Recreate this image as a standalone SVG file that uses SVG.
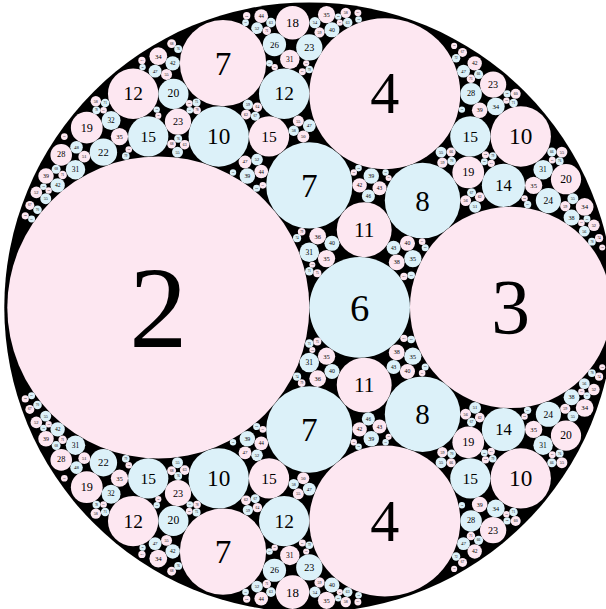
<svg xmlns="http://www.w3.org/2000/svg" width="606" height="609" viewBox="0 0 606 609">
<style>
.p{fill:#fde7f1}.b{fill:#dcf1f9}
text{font-family:"Liberation Serif","DejaVu Serif",serif;font-size:77px;text-anchor:middle;dominant-baseline:central;fill:#000}
svg svg{overflow:visible}
</style>
<rect width="606" height="609" fill="#fff"/>
<g id="packing" transform="translate(309.3 307.4) scale(3.02)">
<circle id="outer" r="101" fill="#000"/>
<g id="k2"><svg x="-100" y="-100" width="200" height="200" viewBox="-200 -200 400 400">
<circle class="p" cx="-100" cy="0" r="100"/><text x="-100" y="0">2</text>
</svg></g>
<g id="k3"><svg x="-100" y="-100" width="200" height="200" viewBox="-300 -300 600 600">
<circle class="p" cx="200" cy="0" r="100"/><text x="200" y="0">3</text>
</svg></g>
<g id="k4"><svg x="-100" y="-100" width="200" height="200" viewBox="-400 -400 800 800">
<circle class="p" cx="100" cy="-283" r="100"/><text x="100" y="-283">4</text>
<circle class="p" cx="100" cy="283" r="100"/><text x="100" y="283">4</text>
</svg></g>
<g id="k6"><svg x="-100" y="-100" width="200" height="200" viewBox="-600 -600 1200 1200">
<circle class="b" cx="100" cy="0" r="100"/><text x="100" y="0">6</text>
</svg></g>
<g id="k7"><svg x="-100" y="-100" width="200" height="200" viewBox="-700 -700 1400 1400">
<circle class="b" cx="0" cy="-283" r="100"/><text x="0" y="-283">7</text>
<circle class="b" cx="0" cy="283" r="100"/><text x="0" y="283">7</text>
<circle class="p" cx="-200" cy="-566" r="100"/><text x="-200" y="-566">7</text>
<circle class="p" cx="-200" cy="566" r="100"/><text x="-200" y="566">7</text>
</svg></g>
<g id="k8"><svg x="-100" y="-100" width="200" height="200" viewBox="-800 -800 1600 1600">
<circle class="b" cx="300" cy="-283" r="100"/><text x="300" y="-283">8</text>
<circle class="b" cx="300" cy="283" r="100"/><text x="300" y="283">8</text>
</svg></g>
<g id="k10"><svg x="-100" y="-100" width="200" height="200" viewBox="-1000 -1000 2000 2000">
<circle class="b" cx="-300" cy="-566" r="100"/><text x="-300" y="-566">10</text>
<circle class="b" cx="-300" cy="566" r="100"/><text x="-300" y="566">10</text>
<circle class="p" cx="700" cy="-566" r="100"/><text x="700" y="-566">10</text>
<circle class="p" cx="700" cy="566" r="100"/><text x="700" y="566">10</text>
</svg></g>
<g id="k11"><svg x="-100" y="-100" width="200" height="200" viewBox="-1100 -1100 2200 2200">
<circle class="p" cx="200" cy="-283" r="100"/><text x="200" y="-283">11</text>
<circle class="p" cx="200" cy="283" r="100"/><text x="200" y="283">11</text>
</svg></g>
<g id="k12"><svg x="-100" y="-100" width="200" height="200" viewBox="-1200 -1200 2400 2400">
<circle class="b" cx="-100" cy="-849" r="100"/><text x="-100" y="-849">12</text>
<circle class="b" cx="-100" cy="849" r="100"/><text x="-100" y="849">12</text>
<circle class="p" cx="-700" cy="-849" r="100"/><text x="-700" y="-849">12</text>
<circle class="p" cx="-700" cy="849" r="100"/><text x="-700" y="849">12</text>
</svg></g>
<g id="k14"><svg x="-100" y="-100" width="200" height="200" viewBox="-1400 -1400 2800 2800">
<circle class="b" cx="900" cy="-566" r="100"/><text x="900" y="-566">14</text>
<circle class="b" cx="900" cy="566" r="100"/><text x="900" y="566">14</text>
</svg></g>
<g id="k15"><svg x="-100" y="-100" width="200" height="200" viewBox="-1500 -1500 3000 3000">
<circle class="p" cx="-200" cy="-849" r="100"/><text x="-200" y="-849">15</text>
<circle class="p" cx="-200" cy="849" r="100"/><text x="-200" y="849">15</text>
<circle class="b" cx="800" cy="-849" r="100"/><text x="800" y="-849">15</text>
<circle class="b" cx="800" cy="849" r="100"/><text x="800" y="849">15</text>
<circle class="b" cx="-800" cy="-849" r="100"/><text x="-800" y="-849">15</text>
<circle class="b" cx="-800" cy="849" r="100"/><text x="-800" y="849">15</text>
</svg></g>
<g id="k18"><svg x="-100" y="-100" width="200" height="200" viewBox="-1800 -1800 3600 3600">
<circle class="p" cx="-100" cy="-1697" r="100"/><text x="-100" y="-1697">18</text>
<circle class="p" cx="-100" cy="1697" r="100"/><text x="-100" y="1697">18</text>
</svg></g>
<g id="k19"><svg x="-100" y="-100" width="200" height="200" viewBox="-1900 -1900 3800 3800">
<circle class="p" cx="1000" cy="-849" r="100"/><text x="1000" y="-849">19</text>
<circle class="p" cx="1000" cy="849" r="100"/><text x="1000" y="849">19</text>
<circle class="p" cx="-1400" cy="-1131" r="100"/><text x="-1400" y="-1131">19</text>
<circle class="p" cx="-1400" cy="1131" r="100"/><text x="-1400" y="1131">19</text>
</svg></g>
<g id="k20"><svg x="-100" y="-100" width="200" height="200" viewBox="-2000 -2000 4000 4000">
<circle class="b" cx="-900" cy="-1414" r="100"/><text x="-900" y="-1414">20</text>
<circle class="b" cx="-900" cy="1414" r="100"/><text x="-900" y="1414">20</text>
<circle class="p" cx="1700" cy="-849" r="100"/><text x="1700" y="-849">20</text>
<circle class="p" cx="1700" cy="849" r="100"/><text x="1700" y="849">20</text>
</svg></g>
<g id="k22"><svg x="-100" y="-100" width="200" height="200" viewBox="-2200 -2200 4400 4400">
<circle class="b" cx="-1500" cy="-1131" r="100"/><text x="-1500" y="-1131">22</text>
<circle class="b" cx="-1500" cy="1131" r="100"/><text x="-1500" y="1131">22</text>
</svg></g>
<g id="k23"><svg x="-100" y="-100" width="200" height="200" viewBox="-2300 -2300 4600 4600">
<circle class="p" cx="-1000" cy="-1414" r="100"/><text x="-1000" y="-1414">23</text>
<circle class="p" cx="-1000" cy="1414" r="100"/><text x="-1000" y="1414">23</text>
<circle class="b" cx="0" cy="-1980" r="100"/><text x="0" y="-1980">23</text>
<circle class="b" cx="0" cy="1980" r="100"/><text x="0" y="1980">23</text>
<circle class="p" cx="1400" cy="-1697" r="100"/><text x="1400" y="-1697">23</text>
<circle class="p" cx="1400" cy="1697" r="100"/><text x="1400" y="1697">23</text>
</svg></g>
<g id="k24"><svg x="-100" y="-100" width="200" height="200" viewBox="-2400 -2400 4800 4800">
<circle class="b" cx="1900" cy="-849" r="100"/><text x="1900" y="-849">24</text>
<circle class="b" cx="1900" cy="849" r="100"/><text x="1900" y="849">24</text>
</svg></g>
<g id="k26"><svg x="-100" y="-100" width="200" height="200" viewBox="-2600 -2600 5200 5200">
<circle class="b" cx="-300" cy="-2263" r="100"/><text x="-300" y="-2263">26</text>
<circle class="b" cx="-300" cy="2263" r="100"/><text x="-300" y="2263">26</text>
</svg></g>
<g id="k28"><svg x="-100" y="-100" width="200" height="200" viewBox="-2800 -2800 5600 5600">
<circle class="b" cx="1500" cy="-1980" r="100"/><text x="1500" y="-1980">28</text>
<circle class="b" cx="1500" cy="1980" r="100"/><text x="1500" y="1980">28</text>
<circle class="p" cx="-2300" cy="-1414" r="100"/><text x="-2300" y="-1414">28</text>
<circle class="p" cx="-2300" cy="1414" r="100"/><text x="-2300" y="1414">28</text>
</svg></g>
<g id="k31"><svg x="-100" y="-100" width="200" height="200" viewBox="-3100 -3100 6200 6200">
<circle class="b" cx="0" cy="-566" r="100"/><text x="0" y="-566">31</text>
<circle class="b" cx="0" cy="566" r="100"/><text x="0" y="566">31</text>
<circle class="p" cx="-200" cy="-2546" r="100"/><text x="-200" y="-2546">31</text>
<circle class="p" cx="-200" cy="2546" r="100"/><text x="-200" y="2546">31</text>
<circle class="b" cx="2400" cy="-1414" r="100"/><text x="2400" y="-1414">31</text>
<circle class="b" cx="2400" cy="1414" r="100"/><text x="2400" y="1414">31</text>
<circle class="b" cx="-2400" cy="-1414" r="100"/><text x="-2400" y="-1414">31</text>
<circle class="b" cx="-2400" cy="1414" r="100"/><text x="-2400" y="1414">31</text>
</svg></g>
<g id="k32"><svg x="-100" y="-100" width="200" height="200" viewBox="-3200 -3200 6400 6400">
<circle class="b" cx="-2100" cy="-1980" r="100"/><text x="-2100" y="-1980">32</text>
<circle class="b" cx="-2100" cy="1980" r="100"/><text x="-2100" y="1980">32</text>
</svg></g>
<g id="k34"><svg x="-100" y="-100" width="200" height="200" viewBox="-3400 -3400 6800 6800">
<circle class="b" cx="2100" cy="-2263" r="100"/><text x="2100" y="-2263">34</text>
<circle class="b" cx="2100" cy="2263" r="100"/><text x="2100" y="2263">34</text>
<circle class="p" cx="-1700" cy="-2828" r="100"/><text x="-1700" y="-2828">34</text>
<circle class="p" cx="-1700" cy="2828" r="100"/><text x="-1700" y="2828">34</text>
<circle class="p" cx="3100" cy="-1131" r="100"/><text x="3100" y="-1131">34</text>
<circle class="p" cx="3100" cy="1131" r="100"/><text x="3100" y="1131">34</text>
</svg></g>
<g id="k35"><svg x="-100" y="-100" width="200" height="200" viewBox="-3500 -3500 7000 7000">
<circle class="p" cx="200" cy="-566" r="100"/><text x="200" y="-566">35</text>
<circle class="p" cx="200" cy="566" r="100"/><text x="200" y="566">35</text>
<circle class="b" cx="1200" cy="-566" r="100"/><text x="1200" y="-566">35</text>
<circle class="b" cx="1200" cy="566" r="100"/><text x="1200" y="566">35</text>
<circle class="p" cx="2600" cy="-1414" r="100"/><text x="2600" y="-1414">35</text>
<circle class="p" cx="2600" cy="1414" r="100"/><text x="2600" y="1414">35</text>
<circle class="p" cx="-2200" cy="-1980" r="100"/><text x="-2200" y="-1980">35</text>
<circle class="p" cx="-2200" cy="1980" r="100"/><text x="-2200" y="1980">35</text>
<circle class="p" cx="200" cy="-3394" r="100"/><text x="200" y="-3394">35</text>
<circle class="p" cx="200" cy="3394" r="100"/><text x="200" y="3394">35</text>
</svg></g>
<g id="k36"><svg x="-100" y="-100" width="200" height="200" viewBox="-3600 -3600 7200 7200">
<circle class="p" cx="100" cy="-849" r="100"/><text x="100" y="-849">36</text>
<circle class="p" cx="100" cy="849" r="100"/><text x="100" y="849">36</text>
</svg></g>
<g id="k38"><svg x="-100" y="-100" width="200" height="200" viewBox="-3800 -3800 7600 7600">
<circle class="p" cx="1100" cy="-566" r="100"/><text x="1100" y="-566">38</text>
<circle class="p" cx="1100" cy="566" r="100"/><text x="1100" y="566">38</text>
<circle class="b" cx="3300" cy="-1131" r="100"/><text x="3300" y="-1131">38</text>
<circle class="b" cx="3300" cy="1131" r="100"/><text x="3300" y="1131">38</text>
</svg></g>
<g id="k39"><svg x="-100" y="-100" width="200" height="200" viewBox="-3900 -3900 7800 7800">
<circle class="b" cx="800" cy="-1697" r="100"/><text x="800" y="-1697">39</text>
<circle class="b" cx="800" cy="1697" r="100"/><text x="800" y="1697">39</text>
<circle class="b" cx="-800" cy="-1697" r="100"/><text x="-800" y="-1697">39</text>
<circle class="b" cx="-800" cy="1697" r="100"/><text x="-800" y="1697">39</text>
<circle class="p" cx="2200" cy="-2546" r="100"/><text x="2200" y="-2546">39</text>
<circle class="p" cx="2200" cy="2546" r="100"/><text x="2200" y="2546">39</text>
<circle class="p" cx="-3400" cy="-1697" r="100"/><text x="-3400" y="-1697">39</text>
<circle class="p" cx="-3400" cy="1697" r="100"/><text x="-3400" y="1697">39</text>
</svg></g>
<g id="k40"><svg x="-100" y="-100" width="200" height="200" viewBox="-4000 -4000 8000 8000">
<circle class="b" cx="300" cy="-849" r="100"/><text x="300" y="-849">40</text>
<circle class="b" cx="300" cy="849" r="100"/><text x="300" y="849">40</text>
<circle class="p" cx="1300" cy="-849" r="100"/><text x="1300" y="-849">40</text>
<circle class="p" cx="1300" cy="849" r="100"/><text x="1300" y="849">40</text>
<circle class="b" cx="300" cy="-3677" r="100"/><text x="300" y="-3677">40</text>
<circle class="b" cx="300" cy="3677" r="100"/><text x="300" y="3677">40</text>
</svg></g>
<g id="k42"><svg x="-100" y="-100" width="200" height="200" viewBox="-4200 -4200 8400 8400">
<circle class="p" cx="700" cy="-1697" r="100"/><text x="700" y="-1697">42</text>
<circle class="p" cx="700" cy="1697" r="100"/><text x="700" y="1697">42</text>
<circle class="b" cx="-1900" cy="-3394" r="100"/><text x="-1900" y="-3394">42</text>
<circle class="b" cx="-1900" cy="3394" r="100"/><text x="-1900" y="3394">42</text>
<circle class="p" cx="2300" cy="-3394" r="100"/><text x="2300" y="-3394">42</text>
<circle class="p" cx="2300" cy="3394" r="100"/><text x="2300" y="3394">42</text>
<circle class="b" cx="-3500" cy="-1697" r="100"/><text x="-3500" y="-1697">42</text>
<circle class="b" cx="-3500" cy="1697" r="100"/><text x="-3500" y="1697">42</text>
</svg></g>
<g id="k43"><svg x="-100" y="-100" width="200" height="200" viewBox="-4300 -4300 8600 8600">
<circle class="p" cx="1000" cy="-1697" r="100"/><text x="1000" y="-1697">43</text>
<circle class="p" cx="1000" cy="1697" r="100"/><text x="1000" y="1697">43</text>
<circle class="b" cx="1200" cy="-849" r="100"/><text x="1200" y="-849">43</text>
<circle class="b" cx="1200" cy="849" r="100"/><text x="1200" y="849">43</text>
</svg></g>
<g id="k44"><svg x="-100" y="-100" width="200" height="200" viewBox="-4400 -4400 8800 8800">
<circle class="p" cx="-700" cy="-1980" r="100"/><text x="-700" y="-1980">44</text>
<circle class="p" cx="-700" cy="1980" r="100"/><text x="-700" y="1980">44</text>
<circle class="p" cx="-700" cy="-4243" r="100"/><text x="-700" y="-4243">44</text>
<circle class="p" cx="-700" cy="4243" r="100"/><text x="-700" y="4243">44</text>
</svg></g>
<g id="k46"><svg x="-100" y="-100" width="200" height="200" viewBox="-4600 -4600 9200 9200">
<circle class="b" cx="900" cy="-1697" r="100"/><text x="900" y="-1697">46</text>
<circle class="b" cx="900" cy="1697" r="100"/><text x="900" y="1697">46</text>
</svg></g>
<g id="k47"><svg x="-100" y="-100" width="200" height="200" viewBox="-4700 -4700 9400 9400">
<circle class="p" cx="-1000" cy="-2263" r="100"/><text x="-1000" y="-2263">47</text>
<circle class="p" cx="-1000" cy="2263" r="100"/><text x="-1000" y="2263">47</text>
<circle class="b" cx="0" cy="-2828" r="100"/><text x="0" y="-2828">47</text>
<circle class="b" cx="0" cy="2828" r="100"/><text x="0" y="2828">47</text>
<circle class="b" cx="-2400" cy="-3677" r="100"/><text x="-2400" y="-3677">47</text>
<circle class="b" cx="-2400" cy="3677" r="100"/><text x="-2400" y="3677">47</text>
<circle class="b" cx="2400" cy="-3677" r="100"/><text x="2400" y="-3677">47</text>
<circle class="b" cx="2400" cy="3677" r="100"/><text x="2400" y="3677">47</text>
</svg></g>
<g id="k48"><svg x="-100" y="-100" width="200" height="200" viewBox="-4800 -4800 9600 9600">
<circle class="b" cx="-3700" cy="-2546" r="100"/><text x="-3700" y="-2546">48</text>
<circle class="b" cx="-3700" cy="2546" r="100"/><text x="-3700" y="2546">48</text>
</svg></g>
<g id="k50"><svg x="-100" y="-100" width="200" height="200" viewBox="-5000 -5000 10000 10000">
<circle class="p" cx="-100" cy="-2828" r="100"/><text x="-100" y="-2828">50</text>
<circle class="p" cx="-100" cy="2828" r="100"/><text x="-100" y="2828">50</text>
</svg></g>
<g id="k51"><svg x="-100" y="-100" width="200" height="200" viewBox="-5100 -5100 10200 10200">
<circle class="b" cx="2800" cy="-1697" r="100"/><text x="2800" y="-1697">51</text>
<circle class="b" cx="2800" cy="1697" r="100"/><text x="2800" y="1697">51</text>
<circle class="p" cx="-3800" cy="-2546" r="100"/><text x="-3800" y="-2546">51</text>
<circle class="p" cx="-3800" cy="2546" r="100"/><text x="-3800" y="2546">51</text>
</svg></g>
<g id="k52"><svg x="-100" y="-100" width="200" height="200" viewBox="-5200 -5200 10400 10400">
<circle class="b" cx="-900" cy="-2546" r="100"/><text x="-900" y="-2546">52</text>
<circle class="b" cx="-900" cy="2546" r="100"/><text x="-900" y="2546">52</text>
<circle class="b" cx="-900" cy="-4808" r="100"/><text x="-900" y="-4808">52</text>
<circle class="b" cx="-900" cy="4808" r="100"/><text x="-900" y="4808">52</text>
<circle class="p" cx="4900" cy="-1414" r="100"/><text x="4900" y="-1414">52</text>
<circle class="p" cx="4900" cy="1414" r="100"/><text x="4900" y="1414">52</text>
<circle class="p" cx="-4700" cy="-1980" r="100"/><text x="-4700" y="-1980">52</text>
<circle class="p" cx="-4700" cy="1980" r="100"/><text x="-4700" y="1980">52</text>
</svg></g>
<g id="k54"><svg x="-100" y="-100" width="200" height="200" viewBox="-5400 -5400 10800 10800">
<circle class="b" cx="100" cy="-5091" r="100"/><text x="100" y="-5091">54</text>
<circle class="b" cx="100" cy="5091" r="100"/><text x="100" y="5091">54</text>
</svg></g>
<g id="k55"><svg x="-100" y="-100" width="200" height="200" viewBox="-5500 -5500 11000 11000">
<circle class="p" cx="-200" cy="-3394" r="100"/><text x="-200" y="-3394">55</text>
<circle class="p" cx="-200" cy="3394" r="100"/><text x="-200" y="3394">55</text>
<circle class="b" cx="2400" cy="-2828" r="100"/><text x="2400" y="-2828">55</text>
<circle class="b" cx="2400" cy="2828" r="100"/><text x="2400" y="2828">55</text>
<circle class="b" cx="-2400" cy="-2828" r="100"/><text x="-2400" y="-2828">55</text>
<circle class="b" cx="-2400" cy="2828" r="100"/><text x="-2400" y="2828">55</text>
<circle class="p" cx="-2600" cy="-4243" r="100"/><text x="-2600" y="-4243">55</text>
<circle class="p" cx="-2600" cy="4243" r="100"/><text x="-2600" y="4243">55</text>
<circle class="b" cx="4800" cy="-1980" r="100"/><text x="4800" y="-1980">55</text>
<circle class="b" cx="4800" cy="1980" r="100"/><text x="4800" y="1980">55</text>
<circle class="p" cx="4600" cy="-2828" r="100"/><text x="4600" y="-2828">55</text>
<circle class="p" cx="4600" cy="2828" r="100"/><text x="4600" y="2828">55</text>
<circle class="b" cx="-4800" cy="-1980" r="100"/><text x="-4800" y="-1980">55</text>
<circle class="b" cx="-4800" cy="1980" r="100"/><text x="-4800" y="1980">55</text>
</svg></g>
<g id="k56"><svg x="-100" y="-100" width="200" height="200" viewBox="-5600 -5600 11200 11200">
<circle class="p" cx="2900" cy="-1980" r="100"/><text x="2900" y="-1980">56</text>
<circle class="p" cx="2900" cy="1980" r="100"/><text x="2900" y="1980">56</text>
<circle class="b" cx="5100" cy="-1414" r="100"/><text x="5100" y="-1414">56</text>
<circle class="b" cx="5100" cy="1414" r="100"/><text x="5100" y="1414">56</text>
</svg></g>
<g id="k58"><svg x="-100" y="-100" width="200" height="200" viewBox="-5800 -5800 11600 11600">
<circle class="b" cx="-300" cy="-3394" r="100"/><text x="-300" y="-3394">58</text>
<circle class="b" cx="-300" cy="3394" r="100"/><text x="-300" y="3394">58</text>
<circle class="p" cx="-4100" cy="-3960" r="100"/><text x="-4100" y="-3960">58</text>
<circle class="p" cx="-4100" cy="3960" r="100"/><text x="-4100" y="3960">58</text>
<circle class="p" cx="700" cy="-5657" r="100"/><text x="700" y="-5657">58</text>
<circle class="p" cx="700" cy="5657" r="100"/><text x="700" y="5657">58</text>
</svg></g>
<g id="k59"><svg x="-100" y="-100" width="200" height="200" viewBox="-5900 -5900 11800 11800">
<circle class="b" cx="-1200" cy="-3960" r="100"/><text x="-1200" y="-3960">59</text>
<circle class="b" cx="-1200" cy="3960" r="100"/><text x="-1200" y="3960">59</text>
<circle class="p" cx="2600" cy="-2828" r="100"/><text x="2600" y="-2828">59</text>
<circle class="p" cx="2600" cy="2828" r="100"/><text x="2600" y="2828">59</text>
<circle class="p" cx="200" cy="-5374" r="100"/><text x="200" y="-5374">59</text>
<circle class="p" cx="200" cy="5374" r="100"/><text x="200" y="5374">59</text>
<circle class="p" cx="5000" cy="-1980" r="100"/><text x="5000" y="-1980">59</text>
<circle class="p" cx="5000" cy="1980" r="100"/><text x="5000" y="1980">59</text>
</svg></g>
<g id="k60"><svg x="-100" y="-100" width="200" height="200" viewBox="-6000 -6000 12000 12000">
<circle class="p" cx="4100" cy="-4243" r="100"/><text x="4100" y="-4243">60</text>
<circle class="p" cx="4100" cy="4243" r="100"/><text x="4100" y="4243">60</text>
</svg></g>
<g id="k62"><svg x="-100" y="-100" width="200" height="200" viewBox="-6200 -6200 12400 12400">
<circle class="p" cx="-1300" cy="-3960" r="100"/><text x="-1300" y="-3960">62</text>
<circle class="p" cx="-1300" cy="3960" r="100"/><text x="-1300" y="3960">62</text>
<circle class="p" cx="3500" cy="-2263" r="100"/><text x="3500" y="-2263">62</text>
<circle class="p" cx="3500" cy="2263" r="100"/><text x="3500" y="2263">62</text>
</svg></g>
<g id="k63"><svg x="-100" y="-100" width="200" height="200" viewBox="-6300 -6300 12600 12600">
<circle class="p" cx="-2600" cy="-3394" r="100"/><text x="-2600" y="-3394">63</text>
<circle class="p" cx="-2600" cy="3394" r="100"/><text x="-2600" y="3394">63</text>
<circle class="b" cx="-800" cy="-5940" r="100"/><text x="-800" y="-5940">63</text>
<circle class="b" cx="-800" cy="5940" r="100"/><text x="-800" y="5940">63</text>
<circle class="b" cx="800" cy="-5940" r="100"/><text x="800" y="-5940">63</text>
<circle class="b" cx="800" cy="5940" r="100"/><text x="800" y="5940">63</text>
</svg></g>
<g id="k64"><svg x="-100" y="-100" width="200" height="200" viewBox="-6400 -6400 12800 12800">
<circle class="p" cx="-1100" cy="-4243" r="100"/><text x="-1100" y="-4243">64</text>
<circle class="p" cx="-1100" cy="4243" r="100"/><text x="-1100" y="4243">64</text>
</svg></g>
<g id="k66"><svg x="-100" y="-100" width="200" height="200" viewBox="-6600 -6600 13200 13200">
<circle class="p" cx="3100" cy="-3394" r="100"/><text x="3100" y="-3394">66</text>
<circle class="p" cx="3100" cy="3394" r="100"/><text x="3100" y="3394">66</text>
<circle class="b" cx="5300" cy="-3394" r="100"/><text x="5300" y="-3394">66</text>
<circle class="b" cx="5300" cy="3394" r="100"/><text x="5300" y="3394">66</text>
<circle class="b" cx="3700" cy="-5091" r="100"/><text x="3700" y="-5091">66</text>
<circle class="b" cx="3700" cy="5091" r="100"/><text x="3700" y="5091">66</text>
</svg></g>
<g id="k67"><svg x="-100" y="-100" width="200" height="200" viewBox="-6700 -6700 13400 13400">
<circle class="b" cx="-1200" cy="-4243" r="100"/><text x="-1200" y="-4243">67</text>
<circle class="b" cx="-1200" cy="4243" r="100"/><text x="-1200" y="4243">67</text>
<circle class="b" cx="3600" cy="-2546" r="100"/><text x="3600" y="-2546">67</text>
<circle class="b" cx="3600" cy="2546" r="100"/><text x="3600" y="2546">67</text>
<circle class="p" cx="-6200" cy="-2263" r="100"/><text x="-6200" y="-2263">67</text>
<circle class="p" cx="-6200" cy="2263" r="100"/><text x="-6200" y="2263">67</text>
<circle class="p" cx="3400" cy="-5657" r="100"/><text x="3400" y="-5657">67</text>
<circle class="p" cx="3400" cy="5657" r="100"/><text x="3400" y="5657">67</text>
</svg></g>
<g id="k68"><svg x="-100" y="-100" width="200" height="200" viewBox="-6800 -6800 13600 13600">
<circle class="p" cx="-3100" cy="-3677" r="100"/><text x="-3100" y="-3677">68</text>
<circle class="p" cx="-3100" cy="3677" r="100"/><text x="-3100" y="3677">68</text>
<circle class="b" cx="-5700" cy="-3111" r="100"/><text x="-5700" y="-3111">68</text>
<circle class="b" cx="-5700" cy="3111" r="100"/><text x="-5700" y="3111">68</text>
<circle class="p" cx="-3100" cy="-5940" r="100"/><text x="-3100" y="-5940">68</text>
<circle class="p" cx="-3100" cy="5940" r="100"/><text x="-3100" y="5940">68</text>
</svg></g>
<g id="k70"><svg x="-100" y="-100" width="200" height="200" viewBox="-7000 -7000 14000 14000">
<circle class="b" cx="3300" cy="-3394" r="100"/><text x="3300" y="-3394">70</text>
<circle class="b" cx="3300" cy="3394" r="100"/><text x="3300" y="3394">70</text>
<circle class="b" cx="-6300" cy="-2263" r="100"/><text x="-6300" y="-2263">70</text>
<circle class="b" cx="-6300" cy="2263" r="100"/><text x="-6300" y="2263">70</text>
</svg></g>
<g id="k71"><svg x="-100" y="-100" width="200" height="200" viewBox="-7100 -7100 14200 14200">
<circle class="b" cx="-4800" cy="-4808" r="100"/><text x="-4800" y="-4808">71</text>
<circle class="b" cx="-4800" cy="4808" r="100"/><text x="-4800" y="4808">71</text>
<circle class="p" cx="-5800" cy="-3111" r="100"/><text x="-5800" y="-3111">71</text>
<circle class="p" cx="-5800" cy="3111" r="100"/><text x="-5800" y="3111">71</text>
<circle class="p" cx="-1000" cy="-6505" r="100"/><text x="-1000" y="-6505">71</text>
<circle class="p" cx="-1000" cy="6505" r="100"/><text x="-1000" y="6505">71</text>
<circle class="p" cx="3800" cy="-5374" r="100"/><text x="3800" y="-5374">71</text>
<circle class="p" cx="3800" cy="5374" r="100"/><text x="3800" y="5374">71</text>
<circle class="b" cx="4800" cy="-4808" r="100"/><text x="4800" y="-4808">71</text>
<circle class="b" cx="4800" cy="4808" r="100"/><text x="4800" y="4808">71</text>
<circle class="b" cx="0" cy="-849" r="100"/><text x="0" y="-849">71</text>
<circle class="b" cx="0" cy="849" r="100"/><text x="0" y="849">71</text>
</svg></g>
<g id="k72"><svg x="-100" y="-100" width="200" height="200" viewBox="-7200 -7200 14400 14400">
<circle class="b" cx="3500" cy="-5940" r="100"/><text x="3500" y="-5940">72</text>
<circle class="b" cx="3500" cy="5940" r="100"/><text x="3500" y="5940">72</text>
</svg></g>
<g id="k74"><svg x="-100" y="-100" width="200" height="200" viewBox="-7400 -7400 14800 14800">
<circle class="p" cx="7100" cy="-1697" r="100"/><text x="7100" y="-1697">74</text>
<circle class="p" cx="7100" cy="1697" r="100"/><text x="7100" y="1697">74</text>
<circle class="b" cx="-300" cy="-1697" r="100"/><text x="-300" y="-1697">74</text>
<circle class="b" cx="-300" cy="1697" r="100"/><text x="-300" y="1697">74</text>
</svg></g>
<g id="k75"><svg x="-100" y="-100" width="200" height="200" viewBox="-7500 -7500 15000 15000">
<circle class="b" cx="-2800" cy="-5091" r="100"/><text x="-2800" y="-5091">75</text>
<circle class="b" cx="-2800" cy="5091" r="100"/><text x="-2800" y="5091">75</text>
<circle class="p" cx="200" cy="-849" r="100"/><text x="200" y="-849">75</text>
<circle class="p" cx="200" cy="849" r="100"/><text x="200" y="849">75</text>
</svg></g>
<g id="k76"><svg x="-100" y="-100" width="200" height="200" viewBox="-7600 -7600 15200 15200">
<circle class="b" cx="-3300" cy="-4243" r="100"/><text x="-3300" y="-4243">76</text>
<circle class="b" cx="-3300" cy="4243" r="100"/><text x="-3300" y="4243">76</text>
<circle class="b" cx="6300" cy="-3677" r="100"/><text x="6300" y="-3677">76</text>
<circle class="b" cx="6300" cy="3677" r="100"/><text x="6300" y="3677">76</text>
<circle class="b" cx="-3300" cy="-6505" r="100"/><text x="-3300" y="-6505">76</text>
<circle class="b" cx="-3300" cy="6505" r="100"/><text x="-3300" y="6505">76</text>
</svg></g>
<g id="k78"><svg x="-100" y="-100" width="200" height="200" viewBox="-7800 -7800 15600 15600">
<circle class="p" cx="-2900" cy="-5091" r="100"/><text x="-2900" y="-5091">78</text>
<circle class="p" cx="-2900" cy="5091" r="100"/><text x="-2900" y="5091">78</text>
<circle class="b" cx="-5500" cy="-5091" r="100"/><text x="-5500" y="-5091">78</text>
<circle class="b" cx="-5500" cy="5091" r="100"/><text x="-5500" y="5091">78</text>
<circle class="b" cx="7300" cy="-1697" r="100"/><text x="7300" y="-1697">78</text>
<circle class="b" cx="7300" cy="1697" r="100"/><text x="7300" y="1697">78</text>
</svg></g>
<g id="k79"><svg x="-100" y="-100" width="200" height="200" viewBox="-7900 -7900 15800 15800">
<circle class="b" cx="4800" cy="-3960" r="100"/><text x="4800" y="-3960">79</text>
<circle class="b" cx="4800" cy="3960" r="100"/><text x="4800" y="3960">79</text>
<circle class="b" cx="-4800" cy="-3960" r="100"/><text x="-4800" y="-3960">79</text>
<circle class="b" cx="-4800" cy="3960" r="100"/><text x="-4800" y="3960">79</text>
<circle class="b" cx="0" cy="-6223" r="100"/><text x="0" y="-6223">79</text>
<circle class="b" cx="0" cy="6223" r="100"/><text x="0" y="6223">79</text>
<circle class="p" cx="-200" cy="-1980" r="100"/><text x="-200" y="-1980">79</text>
<circle class="p" cx="-200" cy="1980" r="100"/><text x="-200" y="1980">79</text>
</svg></g>
<g id="k80"><svg x="-100" y="-100" width="200" height="200" viewBox="-8000 -8000 16000 16000">
<circle class="b" cx="2700" cy="-849" r="100"/><text x="2700" y="-849">80</text>
<circle class="b" cx="2700" cy="849" r="100"/><text x="2700" y="849">80</text>
</svg></g>
<g id="k82"><svg x="-100" y="-100" width="200" height="200" viewBox="-8200 -8200 16400 16400">
<circle class="p" cx="-1700" cy="-7920" r="100"/><text x="-1700" y="-7920">82</text>
<circle class="p" cx="-1700" cy="7920" r="100"/><text x="-1700" y="7920">82</text>
</svg></g>
<g id="k83"><svg x="-100" y="-100" width="200" height="200" viewBox="-8300 -8300 16600 16600">
<circle class="p" cx="5000" cy="-3960" r="100"/><text x="5000" y="-3960">83</text>
<circle class="p" cx="5000" cy="3960" r="100"/><text x="5000" y="3960">83</text>
<circle class="b" cx="6000" cy="-2828" r="100"/><text x="6000" y="-2828">83</text>
<circle class="b" cx="6000" cy="2828" r="100"/><text x="6000" y="2828">83</text>
<circle class="p" cx="-4600" cy="-6788" r="100"/><text x="-4600" y="-6788">83</text>
<circle class="p" cx="-4600" cy="6788" r="100"/><text x="-4600" y="6788">83</text>
<circle class="p" cx="2600" cy="-849" r="100"/><text x="2600" y="-849">83</text>
<circle class="p" cx="2600" cy="849" r="100"/><text x="2600" y="849">83</text>
</svg></g>
<g id="k84"><svg x="-100" y="-100" width="200" height="200" viewBox="-8400 -8400 16800 16800">
<circle class="p" cx="4900" cy="-4243" r="100"/><text x="4900" y="-4243">84</text>
<circle class="p" cx="4900" cy="4243" r="100"/><text x="4900" y="4243">84</text>
<circle class="p" cx="-7900" cy="-2546" r="100"/><text x="-7900" y="-2546">84</text>
<circle class="p" cx="-7900" cy="2546" r="100"/><text x="-7900" y="2546">84</text>
<circle class="b" cx="5500" cy="-5940" r="100"/><text x="5500" y="-5940">84</text>
<circle class="b" cx="5500" cy="5940" r="100"/><text x="5500" y="5940">84</text>
</svg></g>
<g id="k86"><svg x="-100" y="-100" width="200" height="200" viewBox="-8600 -8600 17200 17200">
<circle class="b" cx="-1500" cy="-3394" r="100"/><text x="-1500" y="-3394">86</text>
<circle class="b" cx="-1500" cy="3394" r="100"/><text x="-1500" y="3394">86</text>
<circle class="b" cx="3300" cy="-1697" r="100"/><text x="3300" y="-1697">86</text>
<circle class="b" cx="3300" cy="1697" r="100"/><text x="3300" y="1697">86</text>
</svg></g>
<g id="k87"><svg x="-100" y="-100" width="200" height="200" viewBox="-8700 -8700 17400 17400">
<circle class="b" cx="-8000" cy="-2546" r="100"/><text x="-8000" y="-2546">87</text>
<circle class="b" cx="-8000" cy="2546" r="100"/><text x="-8000" y="2546">87</text>
<circle class="p" cx="-200" cy="-6788" r="100"/><text x="-200" y="-6788">87</text>
<circle class="p" cx="-200" cy="6788" r="100"/><text x="-200" y="6788">87</text>
<circle class="p" cx="1400" cy="-8485" r="100"/><text x="1400" y="-8485">87</text>
<circle class="p" cx="1400" cy="8485" r="100"/><text x="1400" y="8485">87</text>
<circle class="b" cx="8000" cy="-2546" r="100"/><text x="8000" y="-2546">87</text>
<circle class="b" cx="8000" cy="2546" r="100"/><text x="8000" y="2546">87</text>
<circle class="p" cx="7000" cy="-4243" r="100"/><text x="7000" y="-4243">87</text>
<circle class="p" cx="7000" cy="4243" r="100"/><text x="7000" y="4243">87</text>
</svg></g>
<g id="k88"><svg x="-100" y="-100" width="200" height="200" viewBox="-8800 -8800 17600 17600">
<circle class="b" cx="5100" cy="-4243" r="100"/><text x="5100" y="-4243">88</text>
<circle class="b" cx="5100" cy="4243" r="100"/><text x="5100" y="4243">88</text>
<circle class="p" cx="-3500" cy="-5940" r="100"/><text x="-3500" y="-5940">88</text>
<circle class="p" cx="-3500" cy="5940" r="100"/><text x="-3500" y="5940">88</text>
</svg></g>
<g id="k90"><svg x="-100" y="-100" width="200" height="200" viewBox="-9000 -9000 18000 18000">
<circle class="p" cx="-7300" cy="-5091" r="100"/><text x="-7300" y="-5091">90</text>
<circle class="p" cx="-7300" cy="5091" r="100"/><text x="-7300" y="5091">90</text>
<circle class="b" cx="-1900" cy="-8485" r="100"/><text x="-1900" y="-8485">90</text>
<circle class="b" cx="-1900" cy="8485" r="100"/><text x="-1900" y="8485">90</text>
</svg></g>
<g id="k91"><svg x="-100" y="-100" width="200" height="200" viewBox="-9100 -9100 18200 18200">
<circle class="b" cx="-3600" cy="-5940" r="100"/><text x="-3600" y="-5940">91</text>
<circle class="b" cx="-3600" cy="5940" r="100"/><text x="-3600" y="5940">91</text>
<circle class="p" cx="-1400" cy="-3677" r="100"/><text x="-1400" y="-3677">91</text>
<circle class="p" cx="-1400" cy="3677" r="100"/><text x="-1400" y="3677">91</text>
<circle class="p" cx="-6200" cy="-5940" r="100"/><text x="-6200" y="-5940">91</text>
<circle class="p" cx="-6200" cy="5940" r="100"/><text x="-6200" y="5940">91</text>
<circle class="b" cx="-1200" cy="-7354" r="100"/><text x="-1200" y="-7354">91</text>
<circle class="b" cx="-1200" cy="7354" r="100"/><text x="-1200" y="7354">91</text>
<circle class="p" cx="8200" cy="-2546" r="100"/><text x="8200" y="-2546">91</text>
<circle class="p" cx="8200" cy="2546" r="100"/><text x="8200" y="2546">91</text>
<circle class="p" cx="3400" cy="-1980" r="100"/><text x="3400" y="-1980">91</text>
<circle class="p" cx="3400" cy="1980" r="100"/><text x="3400" y="1980">91</text>
</svg></g>
<g id="k92"><svg x="-100" y="-100" width="200" height="200" viewBox="-9200 -9200 18400 18400">
<circle class="p" cx="-5500" cy="-4808" r="100"/><text x="-5500" y="-4808">92</text>
<circle class="p" cx="-5500" cy="4808" r="100"/><text x="-5500" y="4808">92</text>
<circle class="b" cx="-8100" cy="-3677" r="100"/><text x="-8100" y="-3677">92</text>
<circle class="b" cx="-8100" cy="3677" r="100"/><text x="-8100" y="3677">92</text>
<circle class="b" cx="1500" cy="-8768" r="100"/><text x="1500" y="-8768">92</text>
<circle class="b" cx="1500" cy="8768" r="100"/><text x="1500" y="8768">92</text>
<circle class="b" cx="1500" cy="-4243" r="100"/><text x="1500" y="-4243">92</text>
<circle class="b" cx="1500" cy="4243" r="100"/><text x="1500" y="4243">92</text>
</svg></g>
<g id="k94"><svg x="-100" y="-100" width="200" height="200" viewBox="-9400 -9400 18800 18800">
<circle class="b" cx="900" cy="-9051" r="100"/><text x="900" y="-9051">94</text>
<circle class="b" cx="900" cy="9051" r="100"/><text x="900" y="9051">94</text>
<circle class="p" cx="6700" cy="-3394" r="100"/><text x="6700" y="-3394">94</text>
<circle class="p" cx="6700" cy="3394" r="100"/><text x="6700" y="3394">94</text>
</svg></g>
<g id="k95"><svg x="-100" y="-100" width="200" height="200" viewBox="-9500 -9500 19000 19000">
<circle class="b" cx="-4800" cy="-6223" r="100"/><text x="-4800" y="-6223">95</text>
<circle class="b" cx="-4800" cy="6223" r="100"/><text x="-4800" y="6223">95</text>
<circle class="p" cx="-8200" cy="-3677" r="100"/><text x="-8200" y="-3677">95</text>
<circle class="p" cx="-8200" cy="3677" r="100"/><text x="-8200" y="3677">95</text>
<circle class="b" cx="-2400" cy="-4243" r="100"/><text x="-2400" y="-4243">95</text>
<circle class="b" cx="-2400" cy="4243" r="100"/><text x="-2400" y="4243">95</text>
<circle class="b" cx="4800" cy="-6223" r="100"/><text x="4800" y="-6223">95</text>
<circle class="b" cx="4800" cy="6223" r="100"/><text x="4800" y="6223">95</text>
<circle class="p" cx="6200" cy="-6505" r="100"/><text x="6200" y="-6505">95</text>
<circle class="p" cx="6200" cy="6505" r="100"/><text x="6200" y="6505">95</text>
<circle class="p" cx="1400" cy="-4243" r="100"/><text x="1400" y="-4243">95</text>
<circle class="p" cx="1400" cy="4243" r="100"/><text x="1400" y="4243">95</text>
<circle class="b" cx="2400" cy="-4243" r="100"/><text x="2400" y="-4243">95</text>
<circle class="b" cx="2400" cy="4243" r="100"/><text x="2400" y="4243">95</text>
</svg></g>
<g id="k96"><svg x="-100" y="-100" width="200" height="200" viewBox="-9600 -9600 19200 19200">
<circle class="p" cx="-1100" cy="-7637" r="100"/><text x="-1100" y="-7637">96</text>
<circle class="p" cx="-1100" cy="7637" r="100"/><text x="-1100" y="7637">96</text>
<circle class="b" cx="-5300" cy="-7637" r="100"/><text x="-5300" y="-7637">96</text>
<circle class="b" cx="-5300" cy="7637" r="100"/><text x="-5300" y="7637">96</text>
</svg></g>
<g id="k98"><svg x="-100" y="-100" width="200" height="200" viewBox="-9800 -9800 19600 19600">
<circle class="p" cx="-4900" cy="-6223" r="100"/><text x="-4900" y="-6223">98</text>
<circle class="p" cx="-4900" cy="6223" r="100"/><text x="-4900" y="6223">98</text>
<circle class="p" cx="-100" cy="-7920" r="100"/><text x="-100" y="-7920">98</text>
<circle class="p" cx="-100" cy="7920" r="100"/><text x="-100" y="7920">98</text>
<circle class="p" cx="4700" cy="-8485" r="100"/><text x="4700" y="-8485">98</text>
<circle class="p" cx="4700" cy="8485" r="100"/><text x="4700" y="8485">98</text>
</svg></g>
<g id="k99"><svg x="-100" y="-100" width="200" height="200" viewBox="-9900 -9900 19800 19800">
<circle class="p" cx="1000" cy="-9334" r="100"/><text x="1000" y="-9334">99</text>
<circle class="p" cx="1000" cy="9334" r="100"/><text x="1000" y="9334">99</text>
<circle class="p" cx="2600" cy="-4243" r="100"/><text x="2600" y="-4243">99</text>
<circle class="p" cx="2600" cy="4243" r="100"/><text x="2600" y="4243">99</text>
</svg></g>
<g id="k100"><svg x="-100" y="-100" width="200" height="200" viewBox="-10000 -10000 20000 20000">
<circle class="p" cx="9700" cy="-1980" r="100"/><text x="9700" y="-1980">100</text>
<circle class="p" cx="9700" cy="1980" r="100"/><text x="9700" y="1980">100</text>
<circle class="p" cx="100" cy="-1414" r="100"/><text x="100" y="-1414">100</text>
<circle class="p" cx="100" cy="1414" r="100"/><text x="100" y="1414">100</text>
</svg></g>
</g>
</svg>
